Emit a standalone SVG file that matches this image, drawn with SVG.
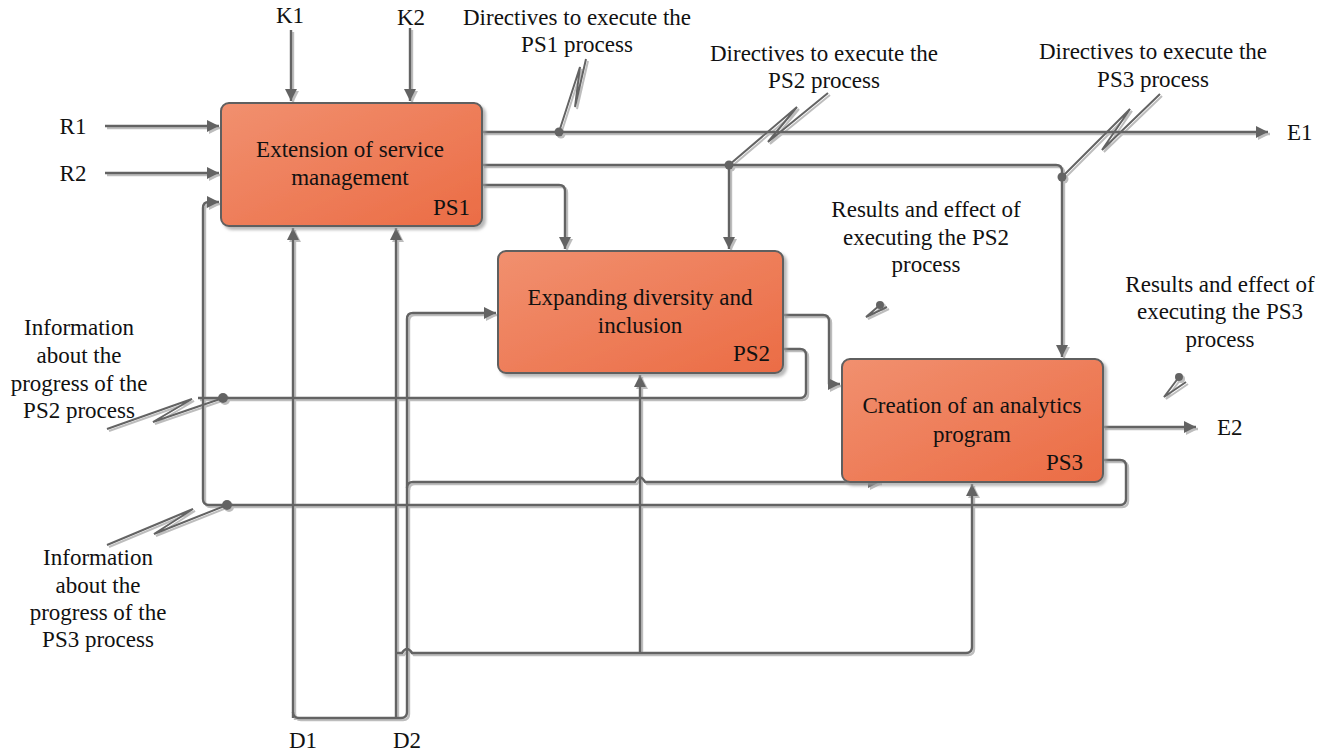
<svg xmlns="http://www.w3.org/2000/svg" width="1333" height="754" viewBox="0 0 1333 754">
<style>
.t{font-family:'Liberation Serif','DejaVu Serif',serif;font-size:23px;fill:#111}
.m{text-anchor:middle}
.e{text-anchor:end}
.w{fill:none;stroke:#646464;stroke-width:2.4;stroke-linejoin:round}
.z{fill:none;stroke:#646464;stroke-width:2;stroke-linejoin:miter}
.a{marker-end:url(#arr)}
.box{fill:url(#grad);stroke:#5f5f5f;stroke-width:2}
.dot{fill:#646464}
</style>
<defs>
<linearGradient id="grad" x1="0" y1="0" x2="1" y2="1">
<stop offset="0" stop-color="#F1906F"/>
<stop offset="1" stop-color="#EB6C45"/>
</linearGradient>
<marker id="arr" markerUnits="userSpaceOnUse" markerWidth="13" markerHeight="12" refX="12" refY="6" orient="auto">
<path d="M0,0 L12,6 L0,12 z" fill="#646464"/>
</marker>
<filter id="lsh" filterUnits="userSpaceOnUse" x="0" y="0" width="1333" height="754">
<feOffset in="SourceAlpha" dx="2" dy="2" result="o"/>
<feFlood flood-color="#bdbdbd"/>
<feComposite in2="o" operator="in" result="s"/>
<feMerge><feMergeNode in="s"/><feMergeNode in="SourceGraphic"/></feMerge>
</filter>
<filter id="bsh" x="-5%" y="-5%" width="115%" height="115%">
<feGaussianBlur in="SourceAlpha" stdDeviation="1.5"/>
<feOffset dx="3" dy="3" result="o"/>
<feFlood flood-color="#9a9a9a" flood-opacity="0.7"/>
<feComposite in2="o" operator="in" result="s"/>
<feMerge><feMergeNode in="s"/><feMergeNode in="SourceGraphic"/></feMerge>
</filter>
</defs>
<rect width="1333" height="754" fill="#fff"/>

<g id="connectors" filter="url(#lsh)">
<path class="w a" d="M291,30 V101"/>
<path class="w a" d="M410,28 V101"/>
<path class="w a" d="M105,126 H219"/>
<path class="w a" d="M105,173 H219"/>
<path class="w a" d="M482,132 H1268"/>
<path class="w a" d="M482,165 H1056 Q1062,165 1062,171 V357"/>
<path class="w a" d="M729,165 V249"/>
<path class="w a" d="M482,185 H559 Q565,185 565,191 V249"/>
<path class="w a" d="M783,315 H823 Q829,315 829,321 V384 H840"/>
<path class="w a" d="M1103,427 H1196"/>
<path class="w" d="M783,349 H800 Q806,349 806,355 V392 Q806,398 800,398 H198"/>
<path class="w a" d="M1103,460 H1120 Q1126,460 1126,466 V499 Q1126,505 1120,505 H209 Q203,505 203,499 V208 Q203,202 209,202 H219"/>
<path class="w a" d="M293,718 V228"/>
<path class="w a" d="M396,718 V228"/>
<path class="w a" d="M293,712 Q293,718 299,718 H401 Q407,718 407,712 V319 Q407,313 413,313 H496"/>
<path class="w a" d="M407,488 Q407,482 413,482 H635 q5,-9 10,0 H880"/>
<path class="w a" d="M396,653 H402 q5,-8 10,0 H966 Q972,653 972,647 V484"/>
<path class="w a" d="M640,653 V375"/>
<path class="z" d="M559,132 L580,67 L575,107 L586,59"/>
<path class="z" d="M729,165 L797,107 L768,142 L828,93"/>
<path class="z" d="M1062,177 L1130,109 L1102,150 L1160,94"/>
<path class="z" d="M223,398 L153,422 L192,399 L107,429"/>
<path class="z" d="M227,505 L154,534 L193,509 L107,545"/>
<path class="z" d="M880,305 L866,317 L887,307"/>
<path class="z" d="M1179,377 L1164,397 L1186,382"/>
<circle class="dot" cx="559" cy="132" r="4.5"/>
<circle class="dot" cx="729" cy="165" r="4.5"/>
<circle class="dot" cx="1062" cy="177" r="4.5"/>
<circle class="dot" cx="223" cy="398" r="5"/>
<circle class="dot" cx="227" cy="505" r="5"/>
<circle class="dot" cx="880" cy="305" r="4"/>
<circle class="dot" cx="1179" cy="377" r="4"/>
</g>

<g id="PS1">
<rect class="box" x="221" y="103" width="261" height="123" rx="8" filter="url(#bsh)"/>
<text class="t m" x="350" y="157">Extension of service</text>
<text class="t m" x="350" y="185">management</text>
<text class="t e" x="470" y="215">PS1</text>
</g>
<g id="PS2">
<rect class="box" x="498" y="251" width="285" height="122" rx="8" filter="url(#bsh)"/>
<text class="t m" x="640" y="305">Expanding diversity and</text>
<text class="t m" x="640" y="333">inclusion</text>
<text class="t e" x="770" y="361">PS2</text>
</g>
<g id="PS3">
<rect class="box" x="842" y="359" width="261" height="123" rx="8" filter="url(#bsh)"/>
<text class="t m" x="972" y="413">Creation of an analytics</text>
<text class="t m" x="972" y="442">program</text>
<text class="t e" x="1083" y="470">PS3</text>
</g>

<g id="labels">
<text class="t m" x="290" y="23">K1</text>
<text class="t m" x="411" y="25">K2</text>
<text class="t m" x="73" y="134">R1</text>
<text class="t m" x="73" y="181">R2</text>
<text class="t" x="1287" y="140">E1</text>
<text class="t" x="1217" y="435">E2</text>
<text class="t" x="289" y="748">D1</text>
<text class="t" x="393" y="748">D2</text>
<text class="t m" x="577" y="25">Directives to execute the</text>
<text class="t m" x="577" y="52">PS1 process</text>
<text class="t m" x="824" y="61">Directives to execute the</text>
<text class="t m" x="824" y="88">PS2 process</text>
<text class="t m" x="1153" y="59">Directives to execute the</text>
<text class="t m" x="1153" y="87">PS3 process</text>
<text class="t m" x="926" y="217">Results and effect of</text>
<text class="t m" x="926" y="245">executing the PS2</text>
<text class="t m" x="926" y="272">process</text>
<text class="t m" x="1220" y="292">Results and effect of</text>
<text class="t m" x="1220" y="319">executing the PS3</text>
<text class="t m" x="1220" y="347">process</text>
<text class="t m" x="79" y="335">Information</text>
<text class="t m" x="79" y="363">about the</text>
<text class="t m" x="79" y="391">progress of the</text>
<text class="t m" x="79" y="418">PS2 process</text>
<text class="t m" x="98" y="565">Information</text>
<text class="t m" x="98" y="593">about the</text>
<text class="t m" x="98" y="620">progress of the</text>
<text class="t m" x="98" y="647">PS3 process</text>
</g>
</svg>
